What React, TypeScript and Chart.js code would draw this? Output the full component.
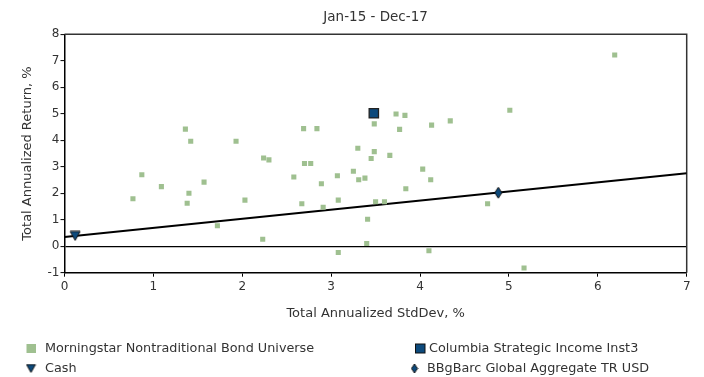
import React, { useEffect, useRef } from 'react';
import { Chart, registerables } from 'chart.js';

Chart.register(...registerables);

// ---- Data ----
const chartTitle = 'Jan-15 - Dec-17';
const xAxisTitle = 'Total Annualized StdDev, %';
const yAxisTitle = 'Total Annualized Return, %';

const seriesNames = [
  'Morningstar Nontraditional Bond Universe',
  'Columbia Strategic Income Inst3',
  'Cash',
  'BBgBarc Global Aggregate TR USD',
];

const universeStdDev = [
  0.77, 0.87, 1.09, 1.36, 1.38, 1.4, 1.42, 1.57, 1.72, 1.93, 2.03, 2.23, 2.24, 2.3, 2.58, 2.67, 2.69,
  2.7, 2.77, 2.84, 2.89, 2.91, 3.07, 3.08, 3.08, 3.25, 3.3, 3.31, 3.38, 3.4, 3.41, 3.45, 3.485, 3.485,
  3.5, 3.6, 3.66, 3.73, 3.77, 3.83, 3.84, 4.03, 4.1, 4.12, 4.13, 4.34, 4.76, 5.01, 5.17, 6.19,
];
const universeReturn = [
  1.79, 2.7, 2.25, 4.42, 1.62, 2.0, 3.96, 2.42, 0.77, 3.96, 1.74, 0.26, 3.33, 3.26, 2.61, 1.6, 4.44,
  3.12, 3.12, 4.44, 2.36, 1.47, 2.66, 1.74, -0.24, 2.83, 3.7, 2.51, 2.57, 0.1, 1.02, 3.31, 3.57, 4.62,
  1.68, 1.68, 3.43, 4.99, 4.41, 4.94, 2.17, 2.91, -0.17, 2.51, 4.57, 4.73, 1.6, 5.13, -0.82, 7.22,
];
const fundStdDev = [3.48];
const fundReturn = [5.02];
const cashStdDev = [0.12];
const cashReturn = [0.39];
const indexStdDev = [4.88];
const indexReturn = [2.02];
const marketLineStdDev = [0, 7];
const marketLineReturn = [0.35, 2.75];

const xMin = 0;
const xMax = 7;
const yMin = -1;
const yMax = 8;

// ---- Styles ----
const FONT = '"DejaVu Sans", "Open Sans", sans-serif';
const TEXT = '#333333';
const GREEN = '#9fc090';
const NAVY = '#0d4a7c';

function makeTriangleDown(w: number, h: number) {
  const c = document.createElement('canvas');
  c.width = w + 2;
  c.height = h + 2;
  const g = c.getContext('2d')!;
  g.beginPath();
  g.moveTo(1, 1);
  g.lineTo(w + 1, 1);
  g.lineTo(w / 2 + 1, h + 1);
  g.closePath();
  g.fillStyle = NAVY;
  g.fill();
  g.strokeStyle = '#111';
  g.lineWidth = 1;
  g.stroke();
  return c;
}

function makeDiamond(w: number, h: number) {
  const c = document.createElement('canvas');
  c.width = w + 2;
  c.height = h + 2;
  const g = c.getContext('2d')!;
  g.beginPath();
  g.moveTo(w / 2 + 1, 1);
  g.lineTo(w + 1, h / 2 + 1);
  g.lineTo(w / 2 + 1, h + 1);
  g.lineTo(1, h / 2 + 1);
  g.closePath();
  g.fillStyle = NAVY;
  g.fill();
  g.strokeStyle = '#111';
  g.lineWidth = 1;
  g.stroke();
  return c;
}

const toPoints = (xs: number[], ys: number[]) => xs.map((x, i) => ({ x, y: ys[i] }));

export default function App() {
  const ref = useRef<HTMLCanvasElement>(null);

  useEffect(() => {
    document.body.style.margin = '0';
    const canvas = ref.current!;
    const tri = makeTriangleDown(10, 9);
    const dia = makeDiamond(7, 11);
    const triLegend = makeTriangleDown(9, 8);
    const diaLegend = makeDiamond(6, 9);

    const frame = {
      id: 'frame',
      beforeDatasetsDraw(chart: any) {
        const { ctx, chartArea: a } = chart;
        ctx.save();
        ctx.strokeStyle = '#333';
        ctx.lineWidth = 1.5;
        ctx.beginPath();
        ctx.moveTo(a.left, a.top);
        ctx.lineTo(a.right, a.top);
        ctx.lineTo(a.right, a.bottom);
        ctx.stroke();
        ctx.restore();
      },
    };

    const legend = {
      id: 'customLegend',
      afterDraw(chart: any) {
        const ctx = chart.ctx as CanvasRenderingContext2D;
        ctx.save();
        ctx.font = `12.8px ${FONT}`;
        ctx.fillStyle = TEXT;
        ctx.textBaseline = 'middle';
        ctx.textAlign = 'left';
        const r1 = 348.5;
        const r2 = 368.5;
        // universe
        ctx.fillStyle = GREEN;
        ctx.fillRect(26.5, r1 - 4.5, 9.5, 9);
        // fund
        ctx.fillStyle = NAVY;
        ctx.fillRect(415.5, r1 - 4.5, 9.5, 9);
        ctx.strokeStyle = '#111';
        ctx.lineWidth = 1;
        ctx.strokeRect(415.5, r1 - 4.5, 9.5, 9);
        // cash
        ctx.drawImage(triLegend, 31 - triLegend.width / 2, r2 - triLegend.height / 2);
        // index
        ctx.drawImage(diaLegend, 414.5 - diaLegend.width / 2, r2 - diaLegend.height / 2);
        ctx.fillStyle = TEXT;
        ctx.fillText(seriesNames[0], 45, r1);
        ctx.fillText(seriesNames[1], 429, r1);
        ctx.fillText(seriesNames[2], 45, r2);
        ctx.fillText(seriesNames[3], 427, r2);
        ctx.restore();
      },
    };

    const chart = new Chart(canvas, {
      type: 'scatter',
      data: {
        datasets: [
          {
            label: 'Market line',
            data: toPoints(marketLineStdDev, marketLineReturn),
            showLine: true,
            borderColor: '#000',
            borderWidth: 2,
            pointRadius: 0,
            order: 5,
          },
          {
            label: seriesNames[0],
            data: toPoints(universeStdDev, universeReturn),
            pointStyle: 'rect',
            pointRadius: 3.6,
            backgroundColor: GREEN,
            borderWidth: 0,
            order: 4,
          },
          {
            label: seriesNames[1],
            data: toPoints(fundStdDev, fundReturn),
            pointStyle: 'rect',
            pointRadius: 6.6,
            backgroundColor: NAVY,
            borderColor: '#222',
            borderWidth: 1.3,
            order: 1,
          },
          {
            label: seriesNames[2],
            data: toPoints(cashStdDev, cashReturn),
            pointStyle: tri as any,
            order: 2,
          },
          {
            label: seriesNames[3],
            data: toPoints(indexStdDev, indexReturn),
            pointStyle: dia as any,
            order: 3,
          },
        ],
      },
      options: {
        responsive: false,
        animation: false,
        layout: { padding: { left: 16, right: 17.3, top: 0, bottom: 52 } },
        plugins: {
          legend: { display: false },
          tooltip: { enabled: false },
          title: {
            display: true,
            fullSize: false,
            text: chartTitle,
            color: TEXT,
            font: { family: FONT, size: 13.5, weight: 'normal' },
            padding: { top: 9.3, bottom: 8.8 },
          },
        },
        scales: {
          x: {
            type: 'linear',
            min: xMin,
            max: xMax,
            ticks: {
              stepSize: 1,
              color: TEXT,
              padding: 3,
              font: { family: FONT, size: 12 },
            },
            grid: {
              color: 'rgba(0,0,0,0)',
              tickColor: '#000',
              tickLength: 4,
              tickWidth: 1,
            },
            border: { display: true, color: '#000', width: 1.5 },
            title: {
              display: true,
              text: xAxisTitle,
              color: TEXT,
              font: { family: FONT, size: 13 },
              padding: { top: 4, bottom: 4 },
            },
            afterFit: (s: any) => {
              s.height = 52.3;
            },
          },
          y: {
            type: 'linear',
            min: yMin,
            max: yMax,
            ticks: {
              stepSize: 1,
              color: TEXT,
              padding: 1,
              font: { family: FONT, size: 12 },
            },
            grid: {
              color: (c: any) => (c.tick && c.tick.value === 0 ? '#000' : 'rgba(0,0,0,0)'),
              lineWidth: 1.2,
              tickColor: '#000',
              tickLength: 4,
              tickWidth: 1,
            },
            border: { display: true, color: '#000', width: 1.5 },
            title: {
              display: true,
              text: yAxisTitle,
              color: TEXT,
              font: { family: FONT, size: 13 },
              padding: { top: 4, bottom: 4 },
            },
            afterFit: (s: any) => {
              s.width = 48.5;
            },
          },
        },
      },
      plugins: [frame, legend],
    });

    return () => chart.destroy();
  }, []);

  return <canvas ref={ref} width={704} height={377} style={{ display: 'block' }} />;
}
